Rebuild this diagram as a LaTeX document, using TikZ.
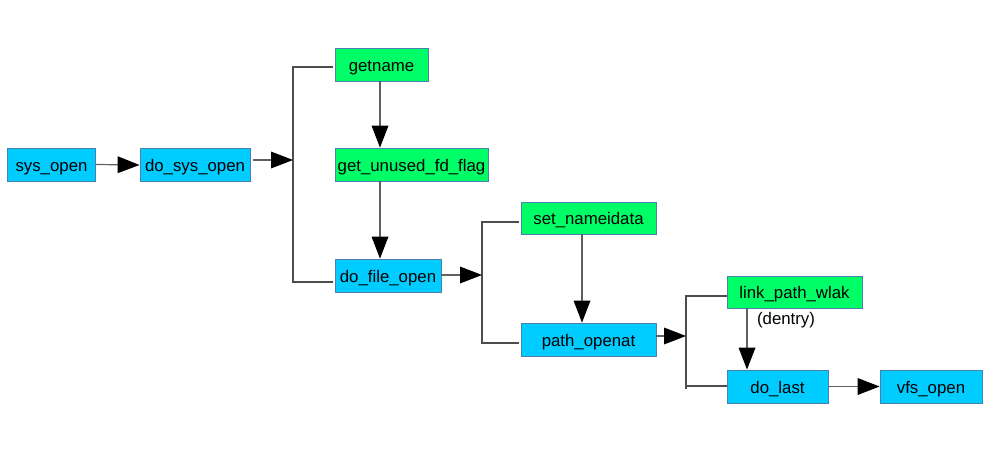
\documentclass[tikz,border=0pt]{standalone}
\usepackage{fontspec}
\setmainfont{Liberation Sans}
\usetikzlibrary{arrows.meta,calc}
\definecolor{bluefill}{HTML}{00CCFF}
\definecolor{greenfill}{HTML}{00FF66}
\definecolor{boxline}{HTML}{4A7FB0}
\definecolor{conn}{HTML}{606060}
\tikzset{
  box/.style={draw=boxline, line width=0.6pt, inner sep=0pt, font=\fontsize{12.6pt}{14pt}\selectfont, text height=12.3pt, text depth=2.5pt, minimum height=24.75pt},
  bluebox/.style={box, fill=bluefill},
  greenbox/.style={box, fill=greenfill},
  arr/.style={draw=conn, line width=0.9pt, -{Triangle[length=16.5pt,width=12.5pt,color=black,fill=black]}},
  brack/.style={draw=conn!80!black, line width=0.9pt},
}
\begin{document}
\begin{tikzpicture}[x=0.75pt,y=-0.75pt]
\useasboundingbox (0,0) rectangle (994,456);
\fill[white] (0,0) rectangle (994,456);
% nodes
\node[bluebox, minimum width=66pt] (so) at (51.5,164.5) {sys\_open};
\node[bluebox, minimum width=82.5pt] (dso) at (195,165) {do\_sys\_open};
\node[greenbox, minimum width=69.75pt] (gn) at (381.5,64.5) {getname};
\node[greenbox, minimum width=114.75pt] (gu) at (411.5,164.5) {get\_unused\_fd\_flag};
\node[bluebox, minimum width=79.5pt] (dfo) at (388,275.5) {do\_file\_open};
\node[greenbox, minimum width=101.25pt, minimum height=24pt] (sn) at (588.5,218) {set\_nameidata};
\node[bluebox, minimum width=101.25pt] (po) at (588.5,339.5) {path\_openat};
\node[greenbox, minimum width=101.25pt, minimum height=24pt] (lp) at (794.5,292) {link\_path\_wlak};
\node[bluebox, minimum width=75.75pt] (dl) at (777.5,386.5) {do\_last};
\node[bluebox, minimum width=76.5pt] (vo) at (931,386.5) {vfs\_open};
\node[fill=white, inner sep=1pt, font=\fontsize{12.6pt}{14pt}\selectfont, text height=9.3pt, text depth=2.5pt] (de) at (786,320) {(dentry)};
% bracket coordinates
\coordinate (b1a) at (333,67);
\coordinate (b1t) at (293,67);
\coordinate (b1m) at (293,160);
\coordinate (b1b) at (293,282);
\coordinate (b1c) at (333,282);
\coordinate (b2a) at (519,222);
\coordinate (b2t) at (482,222);
\coordinate (b2m) at (482,275);
\coordinate (b2b) at (482,343);
\coordinate (b2c) at (519,343);
\coordinate (b3a) at (727,296);
\coordinate (b3t) at (686,296);
\coordinate (b3m) at (686,336);
\coordinate (b3e) at (686,389);
\coordinate (b3b) at (686,386);
\coordinate (b3c) at (727,386);
\coordinate (dsoout) at (253,160);
\coordinate (dfoout) at (441,275);
\coordinate (poout) at (656,336);
% brackets
\draw[brack] (b1a) -- (b1t) -- (b1b) -- (b1c);
\draw[brack] (b2a) -- (b2t) -- (b2b) -- (b2c);
\draw[brack] (b3a) -- (b3t) -- (b3e);
\draw[brack] (b3b) -- (b3c);
% arrows
\draw[arr] (so.east) -- (dso.west);
\draw[arr] (dsoout) -- (b1m);
\draw[arr] (gn.south -| 380,0) -- (gu.north -| 380,0);
\draw[arr] (gu.south -| 380,0) -- (dfo.north -| 380,0);
\draw[arr] (dfoout) -- (b2m);
\draw[arr] (sn.south -| 582,0) -- (po.north -| 582,0);
\draw[arr] (poout) -- (b3m);
\draw[arr] (lp.south -| 747,0) -- (dl.north -| 747,0);
\draw[arr] (dl.east) -- (vo.west);
\end{tikzpicture}
\end{document}
